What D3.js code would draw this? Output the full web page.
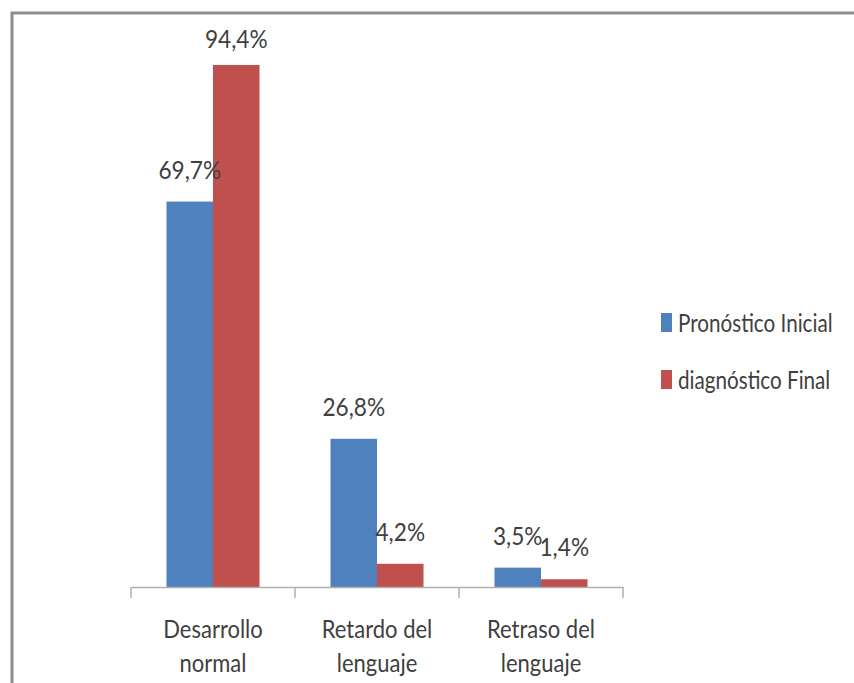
<!DOCTYPE html>
<html><head><meta charset="utf-8">
<script src="https://cdn.jsdelivr.net/npm/d3@7"></script>
<style>html,body{margin:0;padding:0;background:#fff;}svg{display:block;}</style>
</head><body>
<svg id="c" width="854" height="683"></svg>
<script>
const categories = [["Desarrollo","normal"],["Retardo del","lenguaje"],["Retraso del","lenguaje"]];
const seriesNames = ["Pronóstico Inicial","diagnóstico Final"];
const inicial = [69.7, 26.8, 3.5];
const final = [94.4, 4.2, 1.4];
const colors = ["#4F81BD","#C0504D"];

const svg = d3.select("#c");
const font = "Lato, 'Open Sans', sans-serif";
const txt = "#404040";

// frame
svg.append("path").attr("d","M12,683 V13 H854").attr("fill","none").attr("stroke","#8c8c8c").attr("stroke-width",3);

const catKeys = categories.map(c=>c.join(" "));
const x = d3.scaleBand().domain(catKeys).range([131,623]).paddingInner(0).paddingOuter(0);
const xs = d3.scaleBand().domain([0,1]).range([0,x.bandwidth()]).paddingInner(0).paddingOuter(0.763);
const y = d3.scaleLinear().domain([0,100]).range([587,34]);

const data = catKeys.map((k,i)=>({k, vals:[inicial[i], final[i]]}));

const g = svg.append("g");
const groups = g.selectAll("g.cat").data(data).join("g").attr("transform",d=>`translate(${x(d.k)},0)`);
groups.selectAll("rect").data(d=>d.vals.map((v,j)=>({v,j}))).join("rect")
  .attr("x",d=>xs(d.j)).attr("width",xs.bandwidth())
  .attr("y",d=>y(d.v)).attr("height",d=>y(0)-y(d.v)).attr("fill",d=>colors[d.j]);

const fmt = v => d3.format(".1f")(v).replace(".",",")+"%";
groups.selectAll("text.lbl").data(d=>d.vals.map((v,j)=>({v,j}))).join("text")
  .attr("class","lbl")
  .attr("transform",d=>`translate(${xs(d.j)+xs.bandwidth()/2},${Math.max(y(d.v)-23,48)}) scale(1.03,1.15)`)
  .attr("text-anchor","middle").attr("font-family",font).attr("font-size",22).attr("fill",txt)
  .text(d=>fmt(d.v));

// axis line
const ax = svg.append("g").attr("transform","translate(0,587)").call(d3.axisBottom(x).tickSize(0).tickFormat(""));
ax.select(".domain").attr("stroke","#b0b0b0").attr("stroke-width",1.5);
ax.selectAll(".tick").remove();
// category boundary ticks
svg.append("g").selectAll("line").data(d3.range(catKeys.length+1)).join("line")
  .attr("x1",i=>131+i*x.step()).attr("x2",i=>131+i*x.step()).attr("y1",587).attr("y2",598)
  .attr("stroke","#b0b0b0").attr("stroke-width",1.5);

// category labels
const cl = svg.append("g").selectAll("g").data(categories).join("g")
  .attr("transform",(d,i)=>`translate(${x(catKeys[i])+x.bandwidth()/2},0)`);
cl.selectAll("text").data(d=>d).join("text")
  .attr("transform",(d,j)=>`translate(0,${638+j*34}) scale(1.0,1.15)`)
  .attr("text-anchor","middle").attr("font-family",font).attr("font-size",22).attr("fill",txt).text(d=>d);

// legend
const leg = svg.append("g").selectAll("g").data(seriesNames).join("g")
  .attr("transform",(d,i)=>`translate(661,${313+i*57})`);
leg.append("rect").attr("width",11).attr("height",19).attr("fill",(d,i)=>colors[i]);
leg.append("text").attr("transform","translate(17,19) scale(0.96,1.2)")
  .attr("font-family",font).attr("font-size",21.5).attr("fill",txt).text(d=>d);
</script>
</body></html>
